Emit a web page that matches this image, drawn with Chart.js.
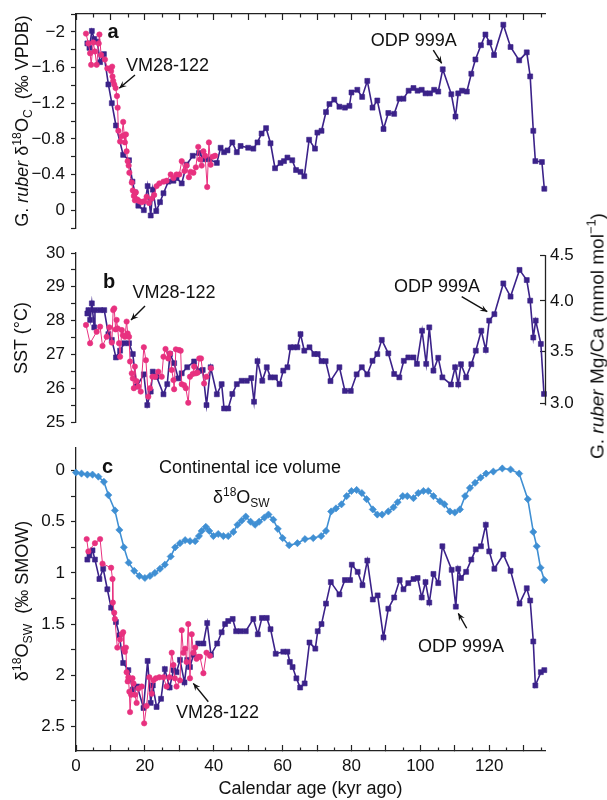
<!DOCTYPE html>
<html><head><meta charset="utf-8">
<script src="https://cdn.jsdelivr.net/npm/chart.js@4.4.0/dist/chart.umd.min.js"></script>
<style>
html,body{margin:0;padding:0;background:#fff;}
#wrap{position:relative;width:607px;height:800px;overflow:hidden;font-family:"Liberation Sans",Arial,sans-serif;color:#111;}
canvas{position:absolute;left:0;}
.yt{position:absolute;white-space:nowrap;font-size:18px;line-height:1;transform:translate(-50%,-50%) rotate(-90deg);}
.yt sup,.yt sub{font-size:68%;line-height:0;}
.yt sup{vertical-align:0.6em;} .yt sub{vertical-align:-0.3em;}
</style></head>
<body><div id="wrap">
<canvas id="cA" width="607" height="240" style="top:0px"></canvas>
<canvas id="cB" width="607" height="194" style="top:240px"></canvas>
<canvas id="cC" width="607" height="366" style="top:434px"></canvas>
<div class="yt" style="left:22px;top:121px">G. <i>ruber</i> δ<sup>18</sup>O<sub>C</sub>&nbsp; (‰ VPDB)</div>
<div class="yt" style="left:21px;top:338px">SST (°C)</div>
<div class="yt" style="left:22px;top:601px">δ<sup>18</sup>O<sub>SW</sub>&nbsp; (‰ SMOW)</div>
<div class="yt" style="left:597px;top:336px;font-size:19px">G. <i>ruber</i> Mg/Ca (mmol mol<sup>−1</sup>)</div>
</div>
<script>
// ---------- DATA ----------
// Panel a: G. ruber d18O calcite (‰ VPDB)
const ageA_odp = [3.3,3.9,4.6,5.3,6.2,7.0,8.1,9.4,10.4,11.6,13.7,15.4,16.4,17.1,18.1,19.7,20.8,21.7,22.3,23.3,24.4,25.4,26.8,28.3,29.2,30.7,32.1,33.9,35.7,37.2,38.7,40.9,42.0,43.0,44.0,45.4,46.7,47.8,50.0,51.5,52.7,53.9,55.2,56.5,57.8,59.4,60.4,61.4,62.8,63.9,65.2,66.3,67.7,69.4,70.1,71.3,72.6,73.6,75.0,76.5,78.1,79.4,80.0,81.7,83.1,84.6,86.1,87.5,89.3,90.7,92.4,93.9,95.1,96.6,98.0,99.2,100.4,101.5,102.8,104.0,105.2,106.5,109.0,110.2,111.0,112.1,113.5,114.8,116.0,117.6,118.9,120.1,121.4,124.1,126.2,128.7,130.9,131.9,132.8,133.4,135.3,136.0];
const d18Oc_odp = [-1.87,-1.82,-2.01,-1.92,-1.89,-1.66,-1.75,-1.41,-1.20,-0.95,-0.62,-0.56,-0.32,-0.20,-0.05,0.00,-0.27,0.06,-0.23,0.01,-0.09,-0.19,-0.32,-0.33,-0.36,-0.30,-0.51,-0.61,-0.64,-0.57,-0.57,-0.53,-0.70,-0.65,-0.67,-0.76,-0.65,-0.72,-0.70,-0.69,-0.76,-0.86,-0.92,-0.75,-0.47,-0.53,-0.55,-0.59,-0.56,-0.45,-0.43,-0.38,-0.79,-0.69,-0.87,-0.89,-1.10,-1.19,-1.24,-1.16,-1.15,-1.17,-1.32,-1.35,-1.27,-1.45,-1.15,-1.23,-0.91,-1.09,-1.08,-1.25,-1.25,-1.34,-1.37,-1.34,-1.35,-1.31,-1.31,-1.35,-1.33,-1.58,-1.30,-1.05,-1.31,-1.34,-1.33,-1.53,-1.69,-1.85,-1.97,-1.88,-1.74,-2.08,-1.83,-1.68,-1.77,-1.50,-0.89,-0.55,-0.54,-0.24];
const ageA_vm = [2.9,3.6,4.1,4.4,5.0,5.5,6.0,6.6,6.8,7.3,8.4,9.1,9.9,10.2,10.5,10.6,10.8,11.1,11.5,11.9,12.1,12.3,12.8,13.3,13.7,14.0,14.2,14.5,14.7,15.0,15.3,15.5,16.2,16.5,16.8,17.1,17.4,17.8,18.4,19.1,19.8,20.5,21.2,22.0,22.7,23.4,24.2,25.4,26.3,27.5,28.3,29.2,30.0,30.7,31.5,32.1,32.8,33.3,34.1,34.8,35.5,36.0,36.5,37.0,37.5,38.1,38.6,39.1,39.7,40.4];
const d18Oc_vm = [-1.98,-1.87,-1.76,-1.63,-1.88,-1.78,-1.63,-1.87,-1.97,-1.74,-1.69,-1.59,-1.59,-1.56,-1.61,-1.50,-1.45,-1.41,-1.37,-1.28,-1.15,-0.89,-0.77,-0.83,-0.99,-0.84,-0.76,-0.85,-0.66,-0.55,-0.50,-0.42,-0.31,-0.22,-0.16,-0.11,-0.20,-0.12,-0.10,-0.09,-0.10,-0.15,-0.08,-0.13,-0.17,-0.27,-0.30,-0.32,-0.33,-0.40,-0.36,-0.40,-0.40,-0.55,-0.44,-0.50,-0.37,-0.43,-0.42,-0.48,-0.71,-0.57,-0.50,-0.66,-0.61,-0.26,-0.76,-0.51,-0.60,-0.61];

// Panel b: SST (°C)
const ageB_odp = [3.3,3.6,4.1,4.6,5.3,5.5,7.0,8.2,9.4,10.4,11.6,12.8,14.0,15.4,16.5,17.6,19.7,20.7,21.7,22.3,23.4,25.4,26.5,27.3,28.5,29.7,30.7,32.3,34.3,35.7,36.8,37.9,39.1,40.9,42.3,43.0,44.2,45.4,46.7,48.1,49.6,50.9,51.7,52.7,54.1,55.4,56.5,57.8,59.1,60.2,61.4,62.3,63.3,64.3,65.2,66.3,67.8,69.2,70.2,71.3,72.5,73.9,76.5,78.1,79.8,81.5,83.0,84.6,86.1,87.5,88.8,90.7,92.4,93.9,95.2,96.5,98.0,99.0,100.5,101.7,102.6,103.8,105.2,106.4,108.9,110.1,111.0,111.8,113.3,114.8,116.1,117.7,119.0,120.0,121.5,124.1,126.2,128.8,130.9,131.9,132.8,133.5,135.0,135.9];
const sst_odp = [28.21,28.31,28.02,28.51,27.80,28.31,28.31,28.31,27.60,27.43,26.91,27.11,27.33,27.33,27.01,26.05,26.41,25.50,25.90,26.49,26.34,25.82,26.12,27.01,26.74,26.29,26.44,26.62,26.79,26.51,26.54,25.50,26.62,25.82,26.12,25.40,25.40,25.83,26.12,26.22,26.22,26.30,25.60,26.80,26.22,26.62,26.32,26.32,26.12,26.52,26.62,27.21,27.21,27.21,27.60,27.11,27.21,27.01,27.01,26.80,26.80,26.21,26.62,25.92,25.92,26.41,26.62,26.41,26.81,27.01,27.43,27.03,26.42,26.32,26.81,26.91,26.91,26.72,27.70,26.72,27.80,26.52,26.90,26.32,26.11,26.62,26.11,26.71,26.32,26.71,27.11,27.70,27.13,28.00,28.19,29.10,28.71,29.50,29.20,28.59,27.50,28.00,27.31,25.83];
const ageB_vm = [2.9,4.1,6.0,7.0,7.7,8.9,9.7,10.4,10.8,11.1,11.5,11.8,12.1,12.5,12.8,13.3,13.6,14.2,14.7,15.0,15.4,15.7,16.2,16.5,16.8,17.1,17.6,18.1,18.8,19.7,20.3,21.0,21.5,22.2,23.0,23.9,24.9,25.4,26.0,26.8,27.3,27.8,28.3,28.5,29.0,29.9,30.4,30.7,31.4,31.9,32.6,33.1,33.9,34.3,34.8,35.3,35.8,36.3,37.2,37.9,39.2];
const sst_vm = [27.87,27.33,27.67,27.82,27.25,27.52,27.80,27.35,28.31,28.36,27.74,28.02,27.77,27.33,26.93,27.72,27.57,27.52,27.97,27.62,27.52,26.79,26.44,26.29,26.00,26.64,26.21,26.05,25.90,27.21,26.83,25.75,26.00,26.34,26.34,26.49,26.34,26.93,27.16,26.88,27.03,26.54,26.24,25.97,27.15,27.13,27.11,26.12,26.09,26.00,25.57,26.34,26.42,26.64,26.44,26.46,26.88,26.88,26.14,26.34,26.59];
// right axis: Mg/Ca tick labels and their SST-equivalent positions
const mgcaTickLabels = ['3.0','3.5','4.0','4.5'];
const mgcaTickSST = [25.55, 27.10, 28.58, 29.94];

// Panel c: d18O seawater (‰ SMOW)
const ageIce = [0.0,1.6,3.3,4.8,6.5,8.1,9.4,11.3,12.6,13.9,15.3,16.9,18.4,20.0,21.5,22.9,24.4,25.8,27.5,28.8,30.2,31.7,33.1,34.6,35.7,36.5,37.7,38.7,39.9,41.3,42.8,44.2,45.7,46.9,48.1,49.3,50.7,52.0,53.2,54.7,55.9,57.3,58.6,60.0,61.9,64.3,66.5,68.9,71.2,72.6,74.1,75.5,77.1,78.6,80.0,81.5,83.0,84.4,86.2,87.5,88.9,90.7,92.2,93.4,94.9,96.2,98.0,99.4,100.9,102.3,103.8,105.7,107.0,108.6,110.0,111.5,113.0,114.4,115.9,117.5,119.1,121.2,123.8,126.2,128.7,131.2,132.8,133.8,134.9,136.0];
const d18Osw_ice = [0.02,0.03,0.04,0.04,0.06,0.11,0.24,0.39,0.58,0.75,0.90,0.98,1.03,1.05,1.03,1.00,0.96,0.92,0.84,0.75,0.71,0.68,0.69,0.69,0.64,0.59,0.55,0.59,0.64,0.62,0.64,0.64,0.60,0.53,0.49,0.45,0.50,0.53,0.50,0.46,0.43,0.48,0.57,0.66,0.73,0.71,0.67,0.66,0.64,0.59,0.40,0.37,0.33,0.25,0.20,0.19,0.22,0.28,0.38,0.43,0.43,0.40,0.36,0.31,0.25,0.25,0.27,0.22,0.20,0.20,0.25,0.30,0.33,0.40,0.41,0.38,0.25,0.17,0.12,0.07,0.03,0.01,-0.02,-0.01,0.03,0.28,0.60,0.74,0.95,1.07];
const ageC_odp = [3.3,3.9,4.8,5.5,6.8,7.9,9.1,10.2,11.6,12.6,13.7,15.2,16.5,17.8,19.6,20.8,21.7,22.3,23.4,24.7,25.8,27.2,28.3,29.2,30.2,31.5,32.3,33.1,34.1,35.5,37.0,38.1,39.2,41.0,42.3,43.3,44.2,45.5,46.5,47.8,49.3,51.5,52.8,54.0,55.4,56.5,58.0,60.2,61.4,62.1,62.9,64.0,65.1,66.4,67.8,69.5,70.2,71.3,72.6,74.0,76.5,78.1,79.6,80.1,81.8,83.2,84.6,86.2,87.6,89.3,90.7,92.4,94.0,95.1,96.5,98.0,99.2,100.4,101.5,102.6,103.8,105.2,106.4,109.1,110.3,111.0,111.8,113.3,114.8,116.1,117.6,119.0,120.0,121.5,124.1,126.2,128.8,130.9,131.9,132.8,133.4,135.0,136.0];
const d18Osw_odp = [0.87,0.83,0.78,0.87,1.06,0.96,1.16,1.34,1.48,1.61,1.88,1.95,2.14,2.11,2.32,1.86,2.27,2.10,2.31,2.23,1.94,2.12,1.95,1.97,1.85,2.07,1.85,1.92,1.80,1.69,1.69,1.49,1.80,1.69,1.58,1.50,1.47,1.45,1.57,1.57,1.57,1.45,1.60,1.44,1.44,1.55,1.79,1.77,1.77,1.87,1.92,2.03,2.12,2.08,1.68,1.74,1.57,1.50,1.30,1.09,1.21,1.07,1.07,0.92,0.99,1.12,0.88,1.26,1.22,1.63,1.35,1.24,1.07,1.16,1.10,1.06,1.05,1.24,1.09,1.29,1.01,1.10,0.74,0.97,1.33,0.96,1.05,0.99,0.87,0.77,0.74,0.53,0.79,0.96,0.82,0.98,1.30,1.15,1.27,1.67,2.10,1.97,1.95];
const ageC_vm = [3.1,3.6,5.5,7.0,7.7,10.2,10.6,10.7,11.1,11.3,12.0,12.8,13.3,13.7,13.9,14.2,14.5,14.7,15.0,15.2,15.5,15.7,16.0,16.4,16.7,17.1,17.6,18.1,19.1,19.8,20.5,21.3,22.0,22.5,23.2,24.2,25.4,26.3,27.1,27.8,28.3,28.7,29.2,30.2,30.7,31.2,31.7,32.1,32.6,33.1,33.6,34.1,34.6,35.0,35.5,36.0,37.0,37.9,38.9];
const d18Osw_vm = [0.67,0.79,0.71,0.67,0.91,0.95,1.06,1.29,1.39,1.45,1.73,1.65,1.60,1.58,1.74,1.77,1.73,1.97,2.06,2.02,2.16,2.36,2.19,2.03,2.08,2.19,2.27,2.13,2.11,2.47,2.30,2.02,2.18,2.05,2.03,2.02,2.02,2.11,2.02,1.78,1.90,2.03,2.11,2.05,1.56,1.78,1.74,1.87,1.50,2.03,1.60,1.78,1.73,1.84,1.82,1.82,1.98,1.78,1.81];

// Axis ticks and labels
const xTicks = [0,10,20,30,40,50,60,70,80,90,100,110,120,130];
const xMinorTicks = [5,15,25,35,45,55,65,75,85,95,105,115,125,135];
const xTickLabels = {0:'0',20:'20',40:'40',60:'60',80:'80',100:'100',120:'120'};
const yTicksA = [-2.2,-2.0,-1.8,-1.6,-1.4,-1.2,-1.0,-0.8,-0.6,-0.4,-0.2,0.0,0.2];
const yLabelsA = {'-2.0':'\u22122','-1.6':'\u22121.6','-1.2':'\u22121.2','-0.8':'\u22120.8','-0.4':'\u22120.4','0.0':'0'};
const yTicksB = [25,25.5,26,26.5,27,27.5,28,28.5,29,29.5,30];
const yLabelsB = {'25.0':'25','26.0':'26','27.0':'27','28.0':'28','29.0':'29','30.0':'30'};
const yTicksC = [0,0.25,0.5,0.75,1,1.25,1.5,1.75,2,2.25,2.5];
const yLabelsC = {'0.00':'0','0.50':'0.5','1.00':'1','1.50':'1.5','2.00':'2','2.50':'2.5'};

// ---------- STYLE ----------
const FONT = '"Liberation Sans", Arial, sans-serif';
Chart.defaults.font.family = FONT;
Chart.defaults.color = '#111';
const AX = '#222';
const PURPLE = '#3b2289', PINK = '#e8317f', BLUE = '#3f8fd3';

function pts(xs, ys){ return xs.map((x,i)=>({x:x, y:ys[i]})); }
function ds(xs, ys, color, style, r, bw, order){
  return { data: pts(xs, ys), borderColor: color, backgroundColor: color, borderWidth: bw,
    pointStyle: style, pointRadius: r, pointBackgroundColor: color, pointBorderColor: color,
    pointBorderWidth: 0.6, tension: 0, showLine: true, order: order, clip: false };
}
function noPad(s){ s.paddingTop = 0; s.paddingBottom = 0; s.paddingLeft = 0; s.paddingRight = 0; }

function xScale(position, showLabels, height, title){
  return {
    type:'linear', position: position, min:0, max:136.2,
    afterBuildTicks: s => { s.ticks = xTicks.map(v=>({value:v})); },
    ticks: { display: showLabels, autoSkip:false, maxRotation:0, padding:11, font:{size:17}, color:'#111',
      callback: v => (xTickLabels[v] !== undefined ? xTickLabels[v] : '') },
    grid: { display:true, drawOnChartArea:false, drawTicks:true, tickLength:-6, tickColor:AX, tickWidth:1.2 },
    border: { display:true, color:AX, width:1.3 },
    title: title ? { display:true, text:title, font:{size:18}, color:'#111', padding:{top:0,bottom:0} } : {display:false},
    afterFit: s => { s.height = height; noPad(s); }
  };
}
function yScale(min, max, reverse, vals, labels, digits){
  return {
    type:'linear', position:'left', min:min, max:max, reverse:reverse,
    afterBuildTicks: s => { s.ticks = vals.map(v=>({value:v})); },
    ticks: { autoSkip:false, padding:6, font:{size:17}, color:'#111',
      callback: v => { const k = Number(v).toFixed(digits); return labels[k] !== undefined ? labels[k] : ''; } },
    grid: { display:true, drawOnChartArea:false, drawTicks:true, tickLength:5, tickColor:AX, tickWidth:1.2 },
    border: { display:true, color:AX, width:1.3 },
    afterFit: s => { s.width = 76; noPad(s); }
  };
}

// annotation plugin: text, arrows, minor x ticks and partial right axis, all placed via the chart scales
const annot = {
  id:'annot',
  afterDatasetsDraw(chart, args, opts){
    const ctx = chart.ctx, xs = chart.scales.x, ys = chart.scales.y;
    ctx.save();
    ctx.fillStyle = '#111'; ctx.strokeStyle = '#111'; ctx.textBaseline = 'alphabetic';
    (opts.texts || []).forEach(t => {
      const px = xs.getPixelForValue(t.x), py = ys.getPixelForValue(t.y);
      if (t.parts){
        let cx = px;
        t.parts.forEach(p => {
          ctx.font = p.size + 'px ' + FONT; ctx.textAlign = 'left';
          ctx.fillText(p.s, cx, py + (p.dy || 0));
          cx += ctx.measureText(p.s).width;
        });
      } else {
        ctx.font = (t.bold ? 'bold ' : '') + t.size + 'px ' + FONT;
        ctx.textAlign = 'center';
        ctx.fillText(t.text, px, py);
      }
    });
    (opts.arrows || []).forEach(a => {
      const x1 = xs.getPixelForValue(a.x1), y1 = ys.getPixelForValue(a.y1);
      const x2 = xs.getPixelForValue(a.x2), y2 = ys.getPixelForValue(a.y2);
      const ang = Math.atan2(y2 - y1, x2 - x1);
      ctx.lineWidth = 1.4;
      ctx.beginPath(); ctx.moveTo(x1, y1); ctx.lineTo(x2, y2); ctx.stroke();
      const L = 8, W = 0.42;
      ctx.beginPath();
      ctx.moveTo(x2, y2);
      ctx.lineTo(x2 - L*Math.cos(ang - W), y2 - L*Math.sin(ang - W));
      ctx.lineTo(x2 - 0.55*L*Math.cos(ang), y2 - 0.55*L*Math.sin(ang));
      ctx.lineTo(x2 - L*Math.cos(ang + W), y2 - L*Math.sin(ang + W));
      ctx.closePath(); ctx.fill();
    });
    if (opts.minorX){
      const top = opts.minorX === 'top';
      const yb = top ? xs.bottom : xs.top, dir = top ? 1 : -1;
      ctx.strokeStyle = AX; ctx.lineWidth = 1.2;
      xMinorTicks.forEach(v => {
        const px = Math.round(xs.getPixelForValue(v)) + 0.5;
        ctx.beginPath(); ctx.moveTo(px, yb); ctx.lineTo(px, yb + dir*3.5); ctx.stroke();
      });
    }
    if (opts.vline){
      const sc = chart.scales[opts.vline.axis];
      const x = Math.round(sc.left) + 0.5;
      ctx.lineWidth = 1.3; ctx.strokeStyle = AX;
      ctx.beginPath(); ctx.moveTo(x, sc.getPixelForValue(opts.vline.from) + 2); ctx.lineTo(x, sc.getPixelForValue(opts.vline.to)); ctx.stroke();
    }
    ctx.restore();
  }
};

const base = { responsive:false, maintainAspectRatio:false, animation:false, events:[] };

// ---------- PANEL A ----------
new Chart(document.getElementById('cA'), {
  type:'line',
  data:{ datasets:[ ds(ageA_vm, d18Oc_vm, PINK, 'circle', 2.7, 1, 0), ds(ageA_odp, d18Oc_odp, PURPLE, 'rect', 3.5, 1.6, 1) ] },
  options: Object.assign({}, base, {
    layout:{ padding:{ left:0, right:62, top:0, bottom:12 } },
    scales:{ x: xScale('top', false, 14, null), y: yScale(-2.2, 0.2, true, yTicksA, yLabelsA, 1) },
    plugins:{ legend:{display:false}, tooltip:{enabled:false},
      annot:{ minorX:'top', texts:[
        {text:'a', x:10.74, y:-1.931, size:20, bold:true},
        {text:'VM28-122', x:26.57, y:-1.561, size:18},
        {text:'ODP 999A', x:98.10, y:-1.845, size:18}
      ], arrows:[
        {x1:17.13, y1:-1.516, x2:12.57, y2:-1.367},
        {x1:103.76, y1:-1.796, x2:106.20, y2:-1.647}
      ] } }
  }),
  plugins:[annot]
});

// ---------- PANEL B ----------
const yB = yScale(25, 30, false, yTicksB, yLabelsB, 1);
new Chart(document.getElementById('cB'), {
  type:'line',
  data:{ datasets:[ ds(ageB_vm, sst_vm, PINK, 'circle', 2.7, 1, 0), ds(ageB_odp, sst_odp, PURPLE, 'rect', 3.5, 1.6, 1) ] },
  options: Object.assign({}, base, {
    layout:{ padding:{ left:0, right:0, top:13, bottom:12 } },
    scales:{
      x: { type:'linear', display:false, min:0, max:136.2 },
      y: yB,
      y2: { type:'linear', position:'right', min:25, max:30,
        afterBuildTicks: s => { s.ticks = mgcaTickSST.map(v=>({value:v})); },
        ticks:{ autoSkip:false, padding:10, font:{size:17}, color:'#111', callback:(v,i)=>mgcaTickLabels[i] },
        grid:{ display:true, drawOnChartArea:false, drawTicks:true, tickLength:-5, tickColor:AX, tickWidth:1.2 },
        border:{ display:false },
        afterFit: s => { s.width = 62; noPad(s); } }
    },
    plugins:{ legend:{display:false}, tooltip:{enabled:false},
      annot:{ texts:[
        {text:'b', x:9.58, y:28.956, size:20, bold:true},
        {text:'VM28-122', x:28.46, y:28.66, size:18},
        {text:'ODP 999A', x:104.84, y:28.855, size:18}
      ], arrows:[
        {x1:20.04, y1:28.432, x2:15.97, y2:28.018},
        {x1:112.01, y1:28.707, x2:119.44, y2:28.263}
      ], vline:{ axis:'y2', from:mgcaTickSST[0], to:mgcaTickSST[3] } } }
  }),
  plugins:[annot]
});

// ---------- PANEL C ----------
new Chart(document.getElementById('cC'), {
  type:'line',
  data:{ datasets:[
    ds(ageIce, d18Osw_ice, BLUE, 'rectRot', 3.6, 1.6, 2),
    ds(ageC_vm, d18Osw_vm, PINK, 'circle', 2.7, 1, 0),
    ds(ageC_odp, d18Osw_odp, PURPLE, 'rect', 3.5, 1.6, 1) ] },
  options: Object.assign({}, base, {
    layout:{ padding:{ left:0, right:62, top:14, bottom:0 } },
    scales:{ x: xScale('bottom', true, 49, 'Calendar age (kyr ago)'), y: yScale(-0.22, 2.74, true, yTicksC, yLabelsC, 2) },
    plugins:{ legend:{display:false}, tooltip:{enabled:false},
      annot:{ minorX:'bottom', texts:[
        {text:'c', x:9.15, y:0.021, size:20, bold:true},
        {text:'Continental ice volume', x:50.53, y:0.027, size:18},
        {x:39.78, y:0.320, parts:[ {s:'\u03b4', size:18}, {s:'18', size:12, dy:-7}, {s:'O', size:18}, {s:'SW', size:12, dy:4} ]},
        {text:'ODP 999A', x:111.80, y:1.770, size:18},
        {text:'VM28-122', x:41.09, y:2.418, size:18}
      ], arrows:[
        {x1:113.46, y1:1.541, x2:111.02, y2:1.395},
        {x1:38.42, y1:2.259, x2:34.06, y2:2.079}
      ] } }
  }),
  plugins:[annot]
});
</script>
</body></html>
